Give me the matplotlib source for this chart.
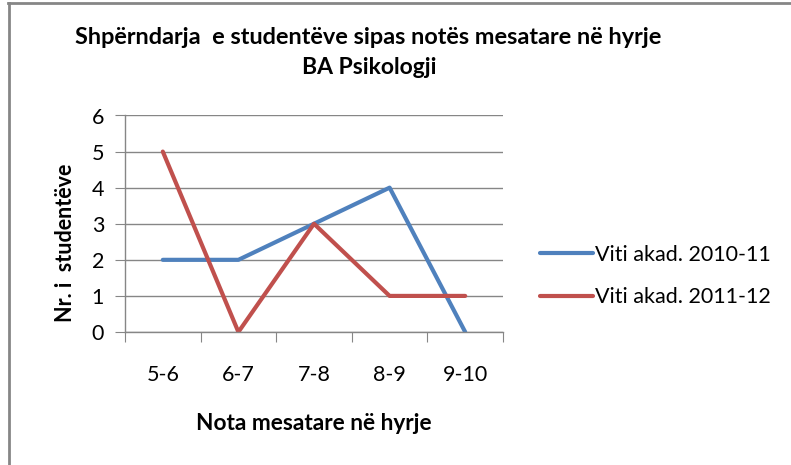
import matplotlib
matplotlib.use('Agg')
import matplotlib.pyplot as plt
from matplotlib.lines import Line2D

categories = ['5-6', '6-7', '7-8', '8-9', '9-10']
viti_2010 = [2, 2, 3, 4, 0]
viti_2011 = [5, 0, 3, 1, 1]
labels = ['Viti akad. 2010-11', 'Viti akad. 2011-12']
title_lines = ['Shpërndarja  e studentëve sipas notës mesatare në hyrje', 'BA Psikologji']

plt.rcParams['font.family'] = ['Lato', 'DejaVu Sans']
grey = '#868686'

W, H = 791, 465
fig = plt.figure(figsize=(W / 100, H / 100), dpi=100)
ax = fig.add_axes([125 / W, 1 - 332 / H, (503 - 125) / W, (332 - 115.5) / H])

x = list(range(len(categories)))
ax.plot(x, viti_2010, color='#4F81BD', lw=3, solid_capstyle='round', label=labels[0])
ax.plot(x, viti_2011, color='#C0504D', lw=3, solid_capstyle='round', label=labels[1])

ax.set_xlim(-0.5, len(categories) - 0.5)
ax.set_ylim(0, 6)
ax.set_yticks(range(7))
ax.set_xticks([i - 0.5 for i in range(len(categories) + 1)])
ax.set_xticklabels([])
ax.set_xticks(x, minor=True)
ax.set_xticklabels(categories, minor=True)
ax.tick_params(axis='x', which='minor', length=0, pad=24, labelsize=15.5)
ax.tick_params(axis='x', which='major', length=7, color=grey, direction='out')
ax.tick_params(axis='y', length=7, color=grey, labelsize=15.5, pad=8)
ax.grid(axis='y', color=grey, lw=1)
ax.set_axisbelow(True)
for s in ['top', 'right']:
    ax.spines[s].set_visible(False)
for s in ['left', 'bottom']:
    ax.spines[s].set_color(grey)
    ax.spines[s].set_linewidth(1)

ax.set_xlabel('Nota mesatare në hyrje', fontsize=16.3, fontweight='bold', va='center')
ax.xaxis.set_label_coords(0.499, (332 - 423) / 216.5)
ax.set_ylabel('Nr. i  studentëve', fontsize=15.5, fontweight='bold', va='center')
ax.yaxis.set_label_coords((65 - 125) / 378, (332 - 243) / 216.5)

fig.text(368 / W, 1 - 37 / H, title_lines[0], ha='center', va='center', fontsize=16.9, fontweight='bold')
fig.text(369 / W, 1 - 67 / H, title_lines[1], ha='center', va='center', fontsize=16.5, fontweight='bold')

ax.legend(loc='center left', bbox_to_anchor=(540 / W, 1 - 276 / H), bbox_transform=fig.transFigure,
          frameon=False, fontsize=15.5, handlelength=2.45, handletextpad=0.1, labelspacing=1.05,
          borderpad=0, borderaxespad=0)

# chart frame: only the top and left edges fall inside the picture
fig.add_artist(Line2D([8.5 / W, 8.5 / W], [0, 1 - 3.5 / H], transform=fig.transFigure, color=grey, lw=2))
fig.add_artist(Line2D([7.5 / W, 1], [1 - 3.5 / H, 1 - 3.5 / H], transform=fig.transFigure, color=grey, lw=2))

fig.savefig('out.png', dpi=100)
